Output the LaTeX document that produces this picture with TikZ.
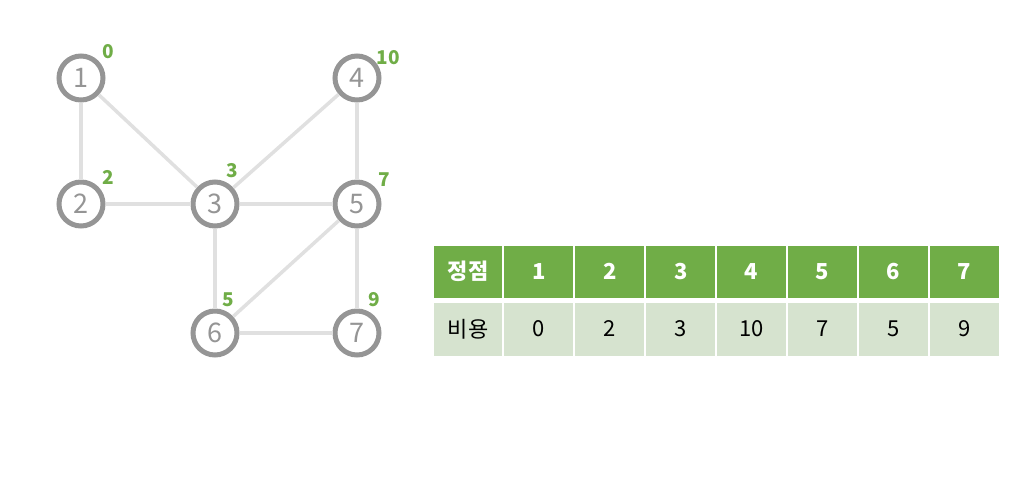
\documentclass[tikz,border=0pt]{standalone}
\usepackage{fontspec}
\setmainfont{Noto Sans CJK KR}
\definecolor{costgreen}{HTML}{70AD47}
\definecolor{cellgreen}{HTML}{D6E3CF}
\definecolor{ringgray}{HTML}{959595}
\definecolor{edgegray}{HTML}{E0E0E0}

\begin{document}
\begin{tikzpicture}[x=1pt,y=-1pt]
\tikzstyle{vertex}=[circle, draw=ringgray, line width=5pt, minimum size=44pt, inner sep=0pt, fill=white, text=ringgray, font=\fontsize{27}{27}\selectfont]
\tikzstyle{edge}=[edgegray, line width=3.5pt]
\tikzstyle{cost}=[text=costgreen, inner sep=0pt, font=\fontsize{19}{19}\selectfont\bfseries]
\tikzstyle{headcell}=[fill=costgreen, draw=white, line width=2pt, minimum height=54pt, text=white, inner sep=0pt, font=\fontsize{22}{22}\selectfont\bfseries]
\tikzstyle{datacell}=[fill=cellgreen, draw=white, line width=2pt, minimum height=55pt, text=black, inner sep=0pt, font=\fontsize{22}{22}\selectfont]
\useasboundingbox (0,0) rectangle (1024,480);
% vertices
\node[vertex] (v1) at (81,78) {1};
\node[vertex] (v2) at (81,204) {2};
\node[vertex] (v3) at (215,204) {3};
\node[vertex] (v4) at (357,78) {4};
\node[vertex] (v5) at (357,204) {5};
\node[vertex] (v6) at (215,333) {6};
\node[vertex] (v7) at (357,333) {7};
% edges
\draw[edge] (v1) -- (v2);
\draw[edge] (v1) -- (v3);
\draw[edge] (v2) -- (v3);
\draw[edge] (v3) -- (v4);
\draw[edge] (v3) -- (v5);
\draw[edge] (v3) -- (v6);
\draw[edge] (v4) -- (v5);
\draw[edge] (v5) -- (v6);
\draw[edge] (v5) -- (v7);
\draw[edge] (v6) -- (v7);
% costs
\node[cost] (w1) at (108,52) {0};
\node[cost] (w2) at (108,177) {2};
\node[cost] (w3) at (232,171) {3};
\node[cost] (w4) at (388,58) {10};
\node[cost] (w5) at (384,180) {7};
\node[cost] (w6) at (228,300) {5};
\node[cost] (w7) at (374,300) {9};
% table
\node[headcell, minimum width=71pt] (h0) at (468,271.5) {정점};
\node[datacell, minimum width=71pt] (c0) at (468,329) {비용};
\foreach \i/\c in {1/0,2/2,3/3,4/10,5/7,6/5,7/9} {
  \node[headcell, minimum width=71pt] (h\i) at (468+70.9*\i,271.5) {\i};
  \node[datacell, minimum width=71pt] (c\i) at (468+70.9*\i,329) {\c};
}
\end{tikzpicture}
\end{document}
